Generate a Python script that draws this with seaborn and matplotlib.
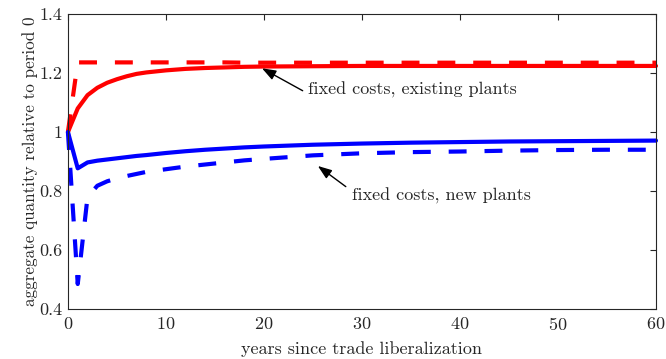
import numpy as np
import pandas as pd
import matplotlib
matplotlib.use("Agg")
import matplotlib.pyplot as plt
import seaborn as sns

# Years since liberalization at which each path is recorded
years = [0, 1, 2, 3, 4, 5, 6, 7, 8, 10, 12, 14, 16, 18, 20, 25, 30, 35, 40, 45, 50, 55, 60]

# Aggregate quantity relative to period 0
existing_solid = [1.000, 1.080, 1.125, 1.150, 1.167, 1.179, 1.189, 1.197, 1.202, 1.209, 1.214,
                  1.217, 1.219, 1.221, 1.222, 1.223, 1.224, 1.224, 1.224, 1.224, 1.224, 1.224, 1.224]
existing_dashed = [1.000, 1.236, 1.236, 1.236, 1.236, 1.236, 1.236, 1.236, 1.236, 1.236, 1.236,
                   1.236, 1.236, 1.235, 1.235, 1.235, 1.235, 1.235, 1.235, 1.235, 1.235, 1.235, 1.235]
new_solid = [1.000, 0.877, 0.897, 0.903, 0.907, 0.911, 0.915, 0.919, 0.922, 0.929, 0.935,
             0.940, 0.944, 0.948, 0.951, 0.957, 0.961, 0.964, 0.966, 0.968, 0.969, 0.970, 0.971]
new_dashed = [1.000, 0.485, 0.780, 0.818, 0.833, 0.843, 0.851, 0.858, 0.865, 0.874, 0.883,
              0.890, 0.897, 0.904, 0.909, 0.921, 0.928, 0.932, 0.934, 0.937, 0.939, 0.940, 0.940]

x_ticks = [0, 10, 20, 30, 40, 50, 60]
y_ticks = [0.4, 0.6, 0.8, 1.0, 1.2, 1.4]
y_tick_labels = ["0.4", "0.6", "0.8", "1", "1.2", "1.4"]

label_existing = "fixed costs, existing plants"
label_new = "fixed costs, new plants"
x_label = "years since trade liberalization"
y_label = "aggregate quantity relative to period 0"

sns.set_style("white")
plt.rcParams["font.family"] = ["cmr10", "DejaVu Serif"]
plt.rcParams["axes.formatter.use_mathtext"] = True

ink = "#262626"

fig = plt.figure(figsize=(6.66, 3.59), dpi=100)
ax = fig.add_axes([0.102, 0.139, 0.883, 0.822])

df = pd.DataFrame({
    "t": years,
    "es": existing_solid,
    "ed": existing_dashed,
    "ns": new_solid,
    "nd": new_dashed,
})

lw = 3.0
dash = (4.3, 4.3)
sns.lineplot(data=df, x="t", y="ed", ax=ax, color=(1, 0, 0), lw=lw)
sns.lineplot(data=df, x="t", y="es", ax=ax, color=(1, 0, 0), lw=lw)
sns.lineplot(data=df, x="t", y="nd", ax=ax, color=(0, 0, 1), lw=lw)
sns.lineplot(data=df, x="t", y="ns", ax=ax, color=(0, 0, 1), lw=lw)
for line in (ax.lines[0], ax.lines[2]):
    line.set_dashes(dash)
    line.set_dash_capstyle("butt")
for line in ax.lines:
    line.set_clip_on(False)
    line.set_solid_joinstyle("round")

ax.set_xlim(0, 60)
ax.set_ylim(0.4, 1.4)
ax.set_xticks(x_ticks)
ax.set_yticks(y_ticks)
ax.set_yticklabels(y_tick_labels)
ax.set_xlabel(x_label, fontsize=13, color=ink, labelpad=6)
ax.set_ylabel(y_label, fontsize=12.3, color=ink, labelpad=1)

for s in ax.spines.values():
    s.set_visible(True)
    s.set_color(ink)
    s.set_linewidth(0.8)
ax.tick_params(direction="in", length=4, width=0.8, colors=ink,
               top=True, right=True, labelsize=13, labelcolor=ink)
ax.tick_params(axis="x", pad=5)
ax.tick_params(axis="y", pad=4)

arrow = dict(arrowstyle="-|>,head_length=0.6,head_width=0.22", color="black",
             lw=1.0, mutation_scale=14, shrinkA=0, shrinkB=0)
ax.annotate("", xy=(19.8, 1.216), xytext=(23.95, 1.140), arrowprops=arrow)
ax.text(24.5, 1.142, label_existing, fontsize=13, va="center", ha="left", color=ink)
ax.annotate("", xy=(25.5, 0.885), xytext=(28.35, 0.815), arrowprops=arrow)
ax.text(28.95, 0.785, label_new, fontsize=13, va="center", ha="left", color=ink)

fig.savefig("out.png", dpi=100)
